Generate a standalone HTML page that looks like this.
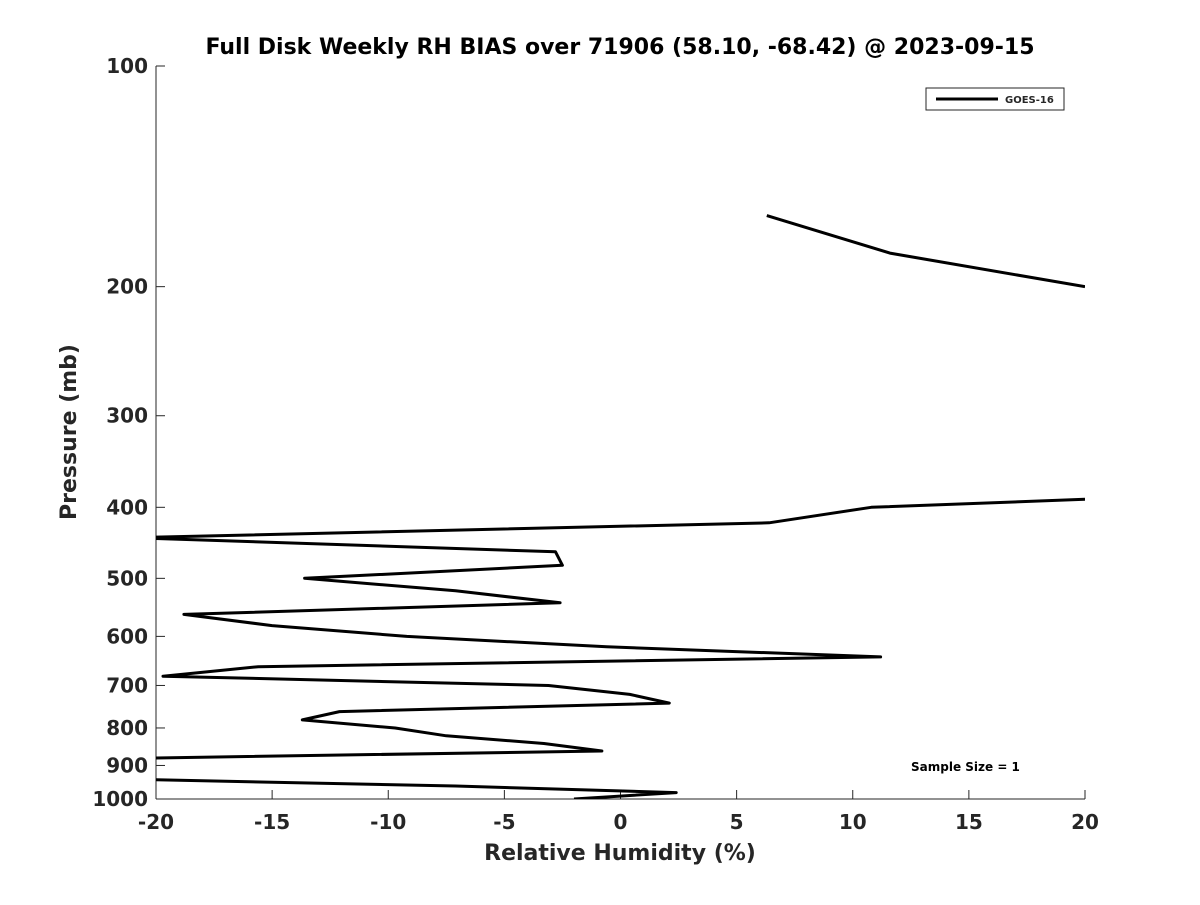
<!DOCTYPE html>
<html><head><meta charset="utf-8"><style>
body{margin:0;background:#fff;}
svg text{font-family:"DejaVu Sans","Liberation Sans",sans-serif;font-weight:bold;fill:#262626;}
</style></head><body>
<svg id="chart" width="1200" height="900" viewBox="0 0 1200 900" xmlns="http://www.w3.org/2000/svg">
<defs><clipPath id="plotclip"><rect x="156" y="66" width="929" height="733"/></clipPath></defs>
<text x="620" y="54" text-anchor="middle" font-size="22" style="fill:#000">Full Disk Weekly RH BIAS over 71906 (58.10, -68.42) @ 2023-09-15</text>
<g id="axes"></g>
<path id="line" fill="none" stroke="#000" stroke-width="3" stroke-linejoin="round" clip-path="url(#plotclip)"/>
<g>
<rect x="926" y="88" width="138" height="22" fill="#fff" stroke="#262626" stroke-width="1"/>
<line x1="936" y1="99" x2="998" y2="99" stroke="#000" stroke-width="3"/>
<text x="1005" y="103" font-size="10">GOES-16</text>
</g>
<text x="911" y="771" font-size="12" style="fill:#000">Sample Size = 1</text>
<text x="620" y="860" text-anchor="middle" font-size="22">Relative Humidity (%)</text>
<text transform="translate(76,432) rotate(-90)" text-anchor="middle" font-size="22">Pressure (mb)</text>
</svg>
<script>
const pressures=[160,180,200,null,390,400,420,440,460,480,500,520,540,560,580,600,620,640,660,680,700,720,740,760,780,800,820,840,860,880,900,920,940,960,980,1000];
const rhBias=[6.3,11.6,20,null,20,10.8,6.4,-21,-2.8,-2.5,-13.6,-7.1,-2.6,-18.8,-15,-9.2,-0.6,11.2,-15.6,-19.7,-3.1,0.4,2.1,-12.1,-13.7,-9.7,-7.5,-3.3,-0.8,-21,-30,-30,-21,-7.1,2.4,-2.0];
const xTicks=[-20,-15,-10,-5,0,5,10,15,20];
const yTicks=[100,200,300,400,500,600,700,800,900,1000];
const X0=156,X1=1085,Y0=66,Y1=799;
const xs=v=>X0+(v+20)/40*(X1-X0);
const ys=p=>Y0+(Math.log10(p)-2)*(Y1-Y0);
const NS="http://www.w3.org/2000/svg";
const ax=document.getElementById('axes');
function mk(t,a){const e=document.createElementNS(NS,t);for(const k in a)e.setAttribute(k,a[k]);return e;}
const xl=mk('line',{x1:X0,y1:Y1,x2:X1,y2:Y1,stroke:'#262626','stroke-width':1});


ax.appendChild(xl);
const yl=mk('line',{x1:X0,y1:Y0,x2:X0,y2:Y1,stroke:'#262626','stroke-width':1});


ax.appendChild(yl);
xTicks.forEach(v=>{
 const x=xs(v);
 ax.appendChild(mk('line',{x1:x,y1:Y1,x2:x,y2:Y1-9,stroke:'#262626'}));
 const t=mk('text',{x:x,y:Y1+30,'text-anchor':'middle','font-size':20});
 
 
 t.textContent=v;ax.appendChild(t);
});
yTicks.forEach(p=>{
 const y=ys(p);
 ax.appendChild(mk('line',{x1:X0,y1:y,x2:X0+9,y2:y,stroke:'#262626'}));
 const t=mk('text',{x:X0-8,y:y+7,'text-anchor':'end','font-size':20});
 
 
 t.textContent=p;ax.appendChild(t);
});
let d='',pen=false;
for(let i=0;i<pressures.length;i++){
 if(pressures[i]===null||rhBias[i]===null){pen=false;continue;}
 d+=(pen?'L':'M')+xs(rhBias[i]).toFixed(1)+','+ys(pressures[i]).toFixed(1);pen=true;
}
document.getElementById('line').setAttribute('d',d);
</script>
</body></html>
